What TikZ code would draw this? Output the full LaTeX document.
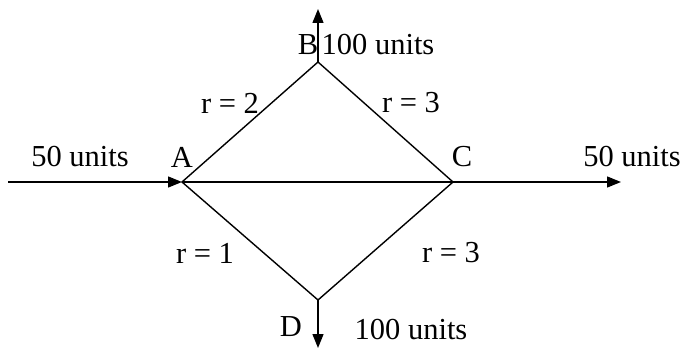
\documentclass[tikz,border=0pt]{standalone}
\usepackage{fontspec}
\setmainfont{Liberation Serif}
\usetikzlibrary{arrows.meta}
\begin{document}
\begin{tikzpicture}[x=1pt,y=-1pt,
  edge/.style={line width=1.4pt},
  flow/.style={line width=1.4pt,-{Triangle[length=14pt,width=11pt]}},
  lbl/.style={inner sep=0pt,font=\fontsize{30.5}{32}\selectfont}]
\useasboundingbox (0,0) rectangle (684,350);
\coordinate (A) at (182,182);
\coordinate (B) at (318,62);
\coordinate (C) at (453,182);
\coordinate (D) at (318,300);
\coordinate (inL) at (8,182);
\coordinate (outR) at (621,182);
\coordinate (outB) at (318,9);
\coordinate (outD) at (318,348);
\draw[edge] (A) -- (B) -- (C) -- (D) -- cycle;
\draw[edge] (A) -- (C);
\draw[flow] (inL) -- (A);
\draw[flow] (C) -- (outR);
\draw[flow] (B) -- (outB);
\draw[flow] (D) -- (outD);
\node[lbl] (t1) at (80,157) {50 units};
\node[lbl] (tA) at (182,157) {A};
\node[lbl] (tC) at (462,157) {C};
\node[lbl] (t2) at (632,157) {50 units};
\node[lbl] (tB) at (308,45) {B};
\node[lbl] (t3) at (378,45) {100 units};
\node[lbl] (r1) at (230,103) {r = 2};
\node[lbl] (r2) at (411,103) {r = 3};
\node[lbl] (r3) at (205,253) {r = 1};
\node[lbl] (r4) at (451,253) {r = 3};
\node[lbl] (tD) at (291,327) {D};
\node[lbl] (t4) at (411,330) {100 units};
\end{tikzpicture}
\end{document}
